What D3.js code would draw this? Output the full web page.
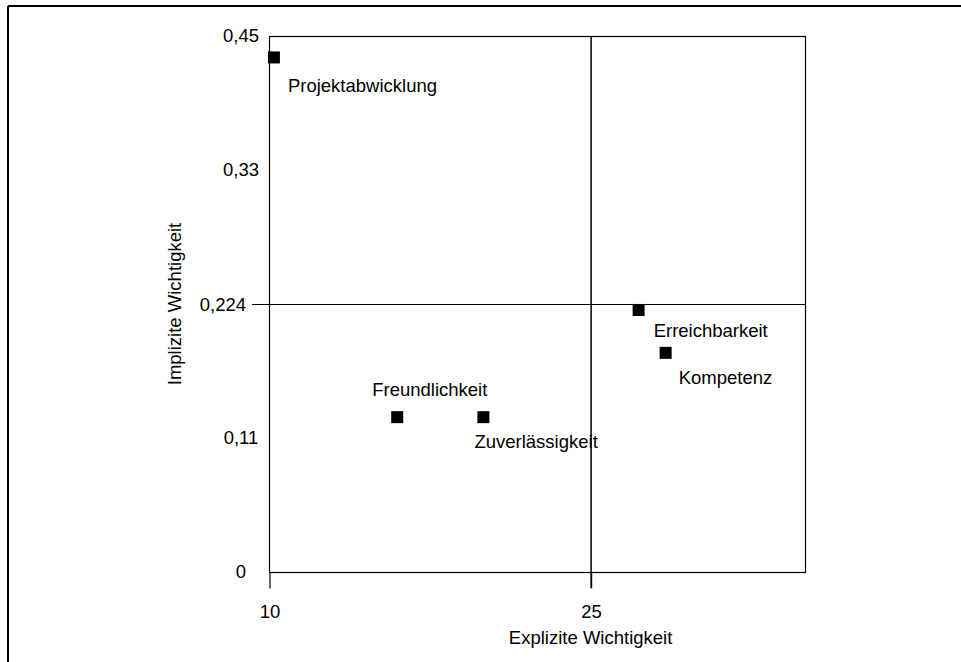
<!DOCTYPE html>
<html>
<head>
<meta charset="utf-8">
<script src="https://cdn.jsdelivr.net/npm/d3@7"></script>
<style>
  html, body { margin: 0; padding: 0; background: #fff; }
  svg { display: block; font-family: "Liberation Sans", Arial, sans-serif; }
  text { fill: #000; }
</style>
</head>
<body>
<svg id="chart" width="961" height="662"></svg>
<script>
// ---- data ----
const categories = ["Projektabwicklung", "Erreichbarkeit", "Kompetenz", "Freundlichkeit", "Zuverlässigkeit"];
const explizit = [10.23, 27.24, 28.5, 15.98, 20.0];
const implizit = [0.432, 0.220, 0.184, 0.130, 0.130];
const xTickValues = [10, 25];
const xTickLabels = ["10", "25"];
const yTickValues = [0, 0.1125, 0.3375, 0.45];
const yTickLabels = ["0", "0,11", "0,33", "0,45"];
const xRef = 25;          // vertical quadrant line
const yRef = 0.224;       // horizontal quadrant line
const yRefLabel = "0,224";
const xTitle = "Explizite Wichtigkeit";
const yTitle = "Implizite Wichtigkeit";

// label placement (layout, not data): offset of label start/baseline from point
const labelOffsets = [[14, 35], [15, 27.5], [13, 31], [-25, -21], [-9, 31]];

// ---- layout ----
const svg = d3.select("#chart");
const L = 269, R = 805, T = 36, B = 572;
const fs = 18.5;

const x = d3.scaleLinear().domain([10, 35]).range([L, R]);
const y = d3.scaleLinear().domain([0, 0.45]).range([B, T]);

// outer frame (top and left only)
svg.append("line").attr("x1", 8).attr("x2", 961).attr("y1", 6).attr("y2", 6)
  .attr("stroke", "#000").attr("stroke-width", 2);
svg.append("line").attr("x1", 8).attr("x2", 8).attr("y1", 6).attr("y2", 662)
  .attr("stroke", "#000").attr("stroke-width", 2);

// plot frame
svg.append("rect").attr("x", L + 0.5).attr("y", T + 0.5)
  .attr("width", R - L).attr("height", B - T)
  .attr("fill", "none").attr("stroke", "#000").attr("stroke-width", 1.2);

// x axis ticks (extending below plot)
const xAxis = d3.axisBottom(x).tickValues(xTickValues)
  .tickFormat((d, i) => xTickLabels[i]).tickSize(16).tickPadding(16);
const gx = svg.append("g").attr("transform", `translate(0.5,${B + 0.5})`).call(xAxis);
gx.select(".domain").remove();
gx.selectAll("line").attr("stroke", "#000").attr("stroke-width", 1.2);
gx.selectAll("text").attr("font-size", fs).attr("font-family", "Liberation Sans, Arial, sans-serif").attr("fill", "#000");

// y axis labels (no tick marks), centred in label column
svg.append("g").selectAll("text").data(yTickValues).join("text")
  .attr("x", 241).attr("y", d => y(d))
  .attr("dy", "0.35em").attr("text-anchor", "middle")
  .attr("font-size", fs)
  .text((d, i) => yTickLabels[i]);

// quadrant lines
svg.append("line").attr("x1", x(xRef) + 0.5).attr("x2", x(xRef) + 0.5)
  .attr("y1", T).attr("y2", B + 16)
  .attr("stroke", "#000").attr("stroke-width", 1.5);
svg.append("line").attr("x1", L - 17).attr("x2", R)
  .attr("y1", Math.round(y(yRef)) - 0.5).attr("y2", Math.round(y(yRef)) - 0.5)
  .attr("stroke", "#000").attr("stroke-width", 1.2);
svg.append("text").attr("x", L - 23).attr("y", y(yRef) - 1).attr("dy", "0.35em")
  .attr("text-anchor", "end").attr("font-size", fs).text(yRefLabel);

// axis titles
svg.append("text").attr("x", x(xRef)).attr("y", 644)
  .attr("text-anchor", "middle").attr("font-size", fs).text(xTitle);
svg.append("text").attr("transform", `translate(181,${(T + B) / 2}) rotate(-90)`)
  .attr("text-anchor", "middle").attr("font-size", fs).text(yTitle);

// points
const pts = categories.map((c, i) => ({ c, x: explizit[i], y: implizit[i], o: labelOffsets[i] }));
const sq = 12;
svg.append("g").selectAll("rect").data(pts).join("rect")
  .attr("x", d => x(d.x) - sq / 2).attr("y", d => y(d.y) - sq / 2)
  .attr("width", sq).attr("height", sq).attr("fill", "#000");

svg.append("g").selectAll("text").data(pts).join("text")
  .attr("x", d => x(d.x) + d.o[0]).attr("y", d => y(d.y) + d.o[1])
  .attr("font-size", fs).text(d => d.c);
</script>
</body>
</html>
